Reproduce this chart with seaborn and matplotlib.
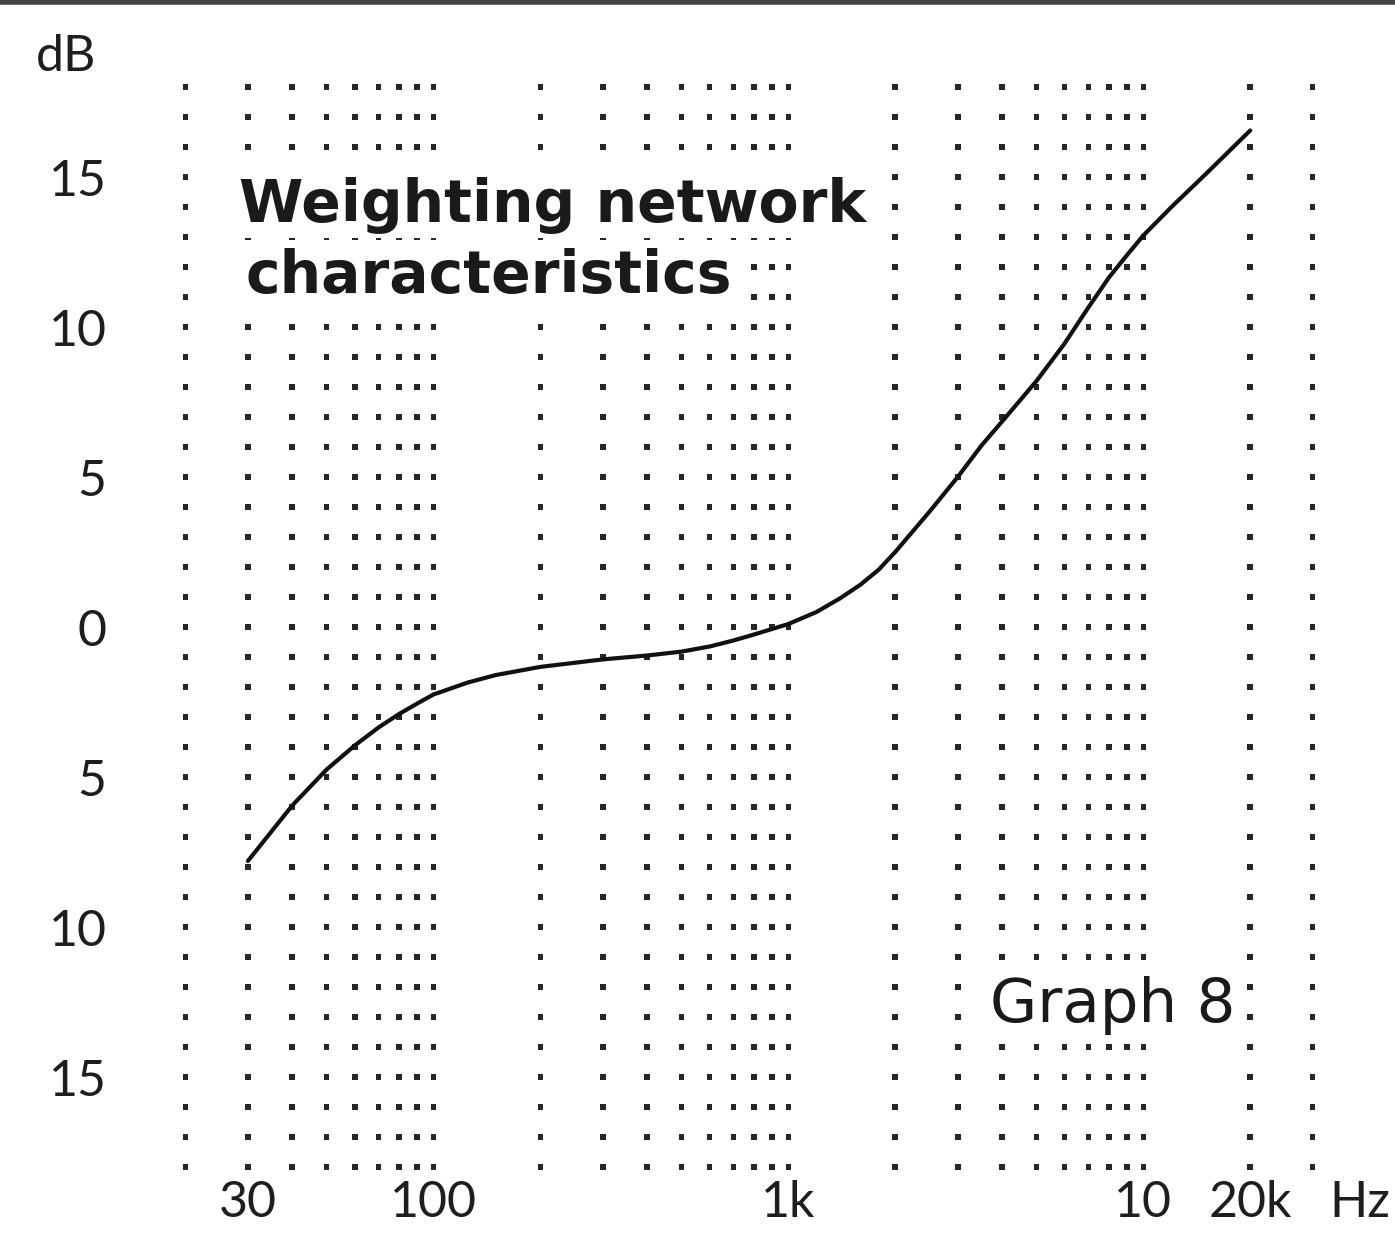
import numpy as np
import pandas as pd
import matplotlib
matplotlib.use('Agg')
import matplotlib.pyplot as plt
import seaborn as sns

# weighting curve
freq_hz = [30, 40, 50, 60, 70, 80, 90, 100, 125, 150, 200, 300, 400, 500,
           600, 700, 800, 1000, 1200, 1400, 1600, 1800, 2000, 2500, 3000,
           3500, 4000, 5000, 6000, 7000, 8000, 9000, 10000, 12000, 15000,
           20000]
level_db = [-7.8, -5.95, -4.75, -3.95, -3.35, -2.9, -2.55, -2.25, -1.85,
            -1.6, -1.33, -1.08, -0.95, -0.82, -0.65, -0.45, -0.25, 0.1, 0.5,
            0.96, 1.42, 1.92, 2.5, 3.85, 5.0, 6.05, 6.85, 8.2, 9.45, 10.65,
            11.65, 12.4, 13.05, 14.0, 15.1, 16.55]

# dotted grid
grid_freqs = [20, 30, 40, 50, 60, 70, 80, 90, 100, 200, 300, 400, 500, 600,
              700, 800, 900, 1000, 2000, 3000, 4000, 5000, 6000, 7000, 8000,
              9000, 10000, 20000, 30000]
grid_levels = list(range(-18, 19))

x_ticks = [30, 100, 1000, 10000, 20000]
x_labels = ['30', '100', '1k', '10', '20k']
y_ticks = [15, 10, 5, 0, -5, -10, -15]
y_labels = ['15', '10', '5', '0', '5', '10', '15']

sns.set_style('white')
plt.rcParams['font.family'] = ['Lato', 'DejaVu Sans']

fig = plt.figure(figsize=(13.95, 12.44), dpi=100)
ax = fig.add_axes([151 / 1395, 68 / 1244, 1206 / 1395, 1143 / 1244])
ax.set_xscale('log')

grid_df = pd.DataFrame([(f, l) for f in grid_freqs for l in grid_levels],
                       columns=['freq', 'level'])
sns.scatterplot(data=grid_df, x='freq', y='level', marker='s', s=16,
                color='#262626', edgecolor='none', ax=ax, zorder=1)

curve_df = pd.DataFrame({'freq': freq_hz, 'level': level_db})
sns.lineplot(data=curve_df, x='freq', y='level', color='#111111',
             linewidth=3, ax=ax, zorder=4)

ax.set_xlim(16, 40000)
ax.set_ylim(-18.3, 19.8)
ax.xaxis.set_minor_locator(matplotlib.ticker.NullLocator())
ax.set_xticks(x_ticks, x_labels)
ax.set_yticks(y_ticks, y_labels)
ax.tick_params(axis='both', length=0, labelsize=36, colors='#1e1e1e')
ax.tick_params(axis='x', pad=3)
ax.tick_params(axis='y', pad=32)
ax.set_xlabel('')
ax.set_ylabel('')
sns.despine(ax=ax, left=True, bottom=True)

ax.annotate('Hz', xy=(33500, 0), xycoords=ax.get_xaxis_transform(),
            xytext=(0, -3), textcoords='offset points', va='top', ha='left',
            fontsize=36, color='#1e1e1e')
ax.annotate('dB', xy=(0, 19.0), xycoords=ax.get_yaxis_transform(),
            xytext=(-61, 0), textcoords='offset points', va='center',
            ha='center', fontsize=36, color='#1e1e1e')

box = dict(facecolor='white', edgecolor='none', pad=3)
ax.text(28.3, 13.5, 'Weighting network', fontsize=42, fontweight='bold',
        family='DejaVu Sans', color='#1a1a1a', va='baseline', ha='left',
        bbox=box, zorder=3)
ax.text(29.5, 11.13, 'characteristics', fontsize=42, fontweight='bold',
        family='DejaVu Sans', color='#1a1a1a', va='baseline', ha='left',
        bbox=box, zorder=3)
ax.text(3700, -13.17, 'Graph 8', fontsize=44, family='DejaVu Sans',
        color='#1a1a1a', va='baseline', ha='left', bbox=box, zorder=3)

fig.add_artist(plt.Line2D([0, 1], [0.998, 0.998], color='#444444',
                          linewidth=4, transform=fig.transFigure))

fig.savefig('out.png', dpi=100)
